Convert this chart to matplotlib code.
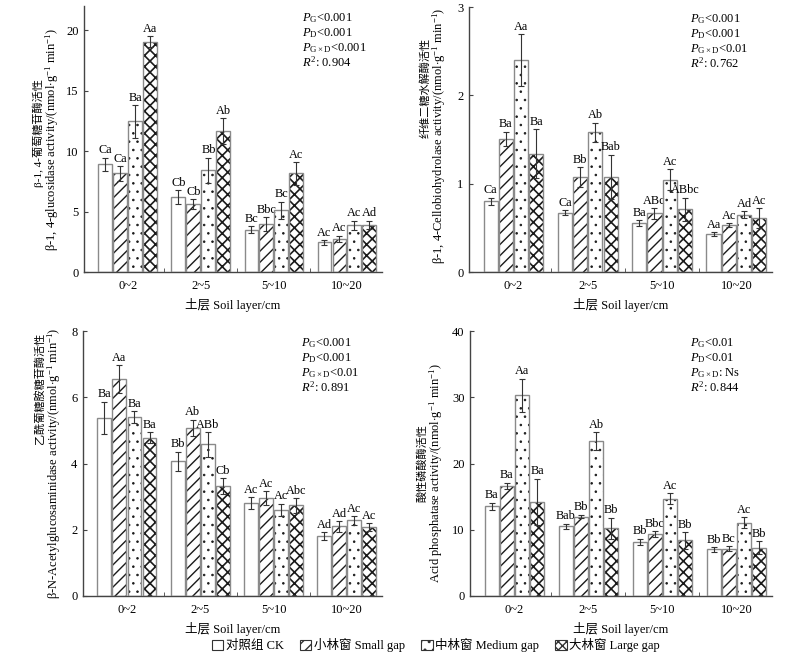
import numpy as np
import matplotlib
matplotlib.use('Agg')
import matplotlib.pyplot as plt
from matplotlib.patches import Patch

plt.rcParams['font.family'] = ['Liberation Serif', 'Noto Sans CJK SC']
plt.rcParams['font.size'] = 9
plt.rcParams['mathtext.fontset'] = 'custom'
plt.rcParams['mathtext.rm'] = 'Liberation Serif'
plt.rcParams['mathtext.it'] = 'Liberation Serif:italic'

layers = ['0~2', '2~5', '5~10', '10~20']
groups = ['对照组 CK', '小林窗 Small gap', '中林窗 Medium gap', '大林窗 Large gap']
hatches = ['', '///', '..', 'xxx']
hatch_lw = [1.0, 1.0, 0.6, 1.2]

# beta-1,4-glucosidase
glu_mean = [[8.9, 6.2, 3.5, 2.45],
            [8.15, 5.6, 3.95, 2.75],
            [12.45, 8.4, 5.1, 3.85],
            [19.05, 11.65, 8.15, 3.9]]
glu_err = [[0.55, 0.55, 0.3, 0.2],
           [0.6, 0.4, 0.6, 0.25],
           [1.35, 1.05, 0.7, 0.4],
           [0.45, 1.05, 0.95, 0.35]]
glu_let = [['Ca', 'Cb', 'Bc', 'Ac'],
           ['Ca', 'Cb', 'Bbc', 'Ac'],
           ['Ba', 'Bb', 'Bc', 'Ac'],
           ['Aa', 'Ab', 'Ac', 'Ad']]

# cellobiohydrolase
cbh_mean = [[0.80, 0.67, 0.555, 0.43],
            [1.51, 1.075, 0.665, 0.53],
            [2.40, 1.58, 1.045, 0.65],
            [1.34, 1.08, 0.71, 0.61]]
cbh_err = [[0.04, 0.03, 0.03, 0.02],
           [0.08, 0.11, 0.06, 0.02],
           [0.29, 0.11, 0.12, 0.04],
           [0.28, 0.25, 0.13, 0.11]]
cbh_let = [['Ca', 'Ca', 'Ba', 'Aa'],
           ['Ba', 'Bb', 'ABc', 'Ac'],
           ['Aa', 'Ab', 'Ac', 'Ad'],
           ['Ba', 'Bab', 'ABbc', 'Ac']]

# N-acetylglucosaminidase
nag_mean = [[5.38, 4.07, 2.81, 1.81],
            [6.54, 5.08, 2.96, 2.10],
            [5.40, 4.58, 2.61, 2.28],
            [4.78, 3.32, 2.74, 2.08]]
nag_err = [[0.49, 0.29, 0.18, 0.12],
           [0.42, 0.24, 0.2, 0.16],
           [0.17, 0.37, 0.18, 0.13],
           [0.17, 0.24, 0.22, 0.12]]
nag_let = [['Ba', 'Bb', 'Ac', 'Ad'],
           ['Aa', 'Ab', 'Ac', 'Ad'],
           ['Ba', 'ABb', 'Ac', 'Ac'],
           ['Ba', 'Cb', 'Abc', 'Ac']]

# acid phosphatase
acp_mean = [[13.55, 10.5, 8.15, 7.05],
            [16.6, 12.0, 9.3, 7.15],
            [30.3, 23.4, 14.7, 11.05],
            [14.2, 10.2, 8.4, 7.3]]
acp_err = [[0.55, 0.4, 0.5, 0.35],
           [0.5, 0.3, 0.45, 0.35],
           [2.5, 1.3, 0.8, 0.85],
           [3.5, 1.6, 1.25, 0.95]]
acp_let = [['Ba', 'Bab', 'Bb', 'Bb'],
           ['Ba', 'Bb', 'Bbc', 'Bc'],
           ['Aa', 'Ab', 'Ac', 'Ac'],
           ['Ba', 'Bb', 'Bb', 'Bb']]

glu_stats = ['<0.001', '<0.001', '<0.001', '0.904']
cbh_stats = ['<0.001', '<0.001', '<0.01', '0.762']
nag_stats = ['<0.001', '<0.001', '<0.01', '0.891']
acp_stats = ['<0.01', '<0.01', ': Ns', '0.844']

W, H = 800, 653
fig = plt.figure(figsize=(8, 6.53), dpi=100)


def px_rect(x0, y0, x1, y1):
    return [x0 / W, 1 - y1 / H, (x1 - x0) / W, (y1 - y0) / H]


def set_hlw(patch, lw):
    if hasattr(patch, 'set_hatch_linewidth'):
        patch.set_hatch_linewidth(lw)


def panel(rect, mean, err, let, stats, ymax, ystep, ylab_en, ylab_cn, cn_pos, en_pos):
    ax = fig.add_axes(px_rect(*rect))
    x = np.arange(len(layers))
    for i in range(4):
        xs = x + (i - 1.5) * 0.205
        with plt.rc_context({'hatch.linewidth': hatch_lw[i]}):
            bars = ax.bar(xs, mean[i], 0.19, color='white', edgecolor='#1a1a1a',
                          hatch=hatches[i], linewidth=0, zorder=2)
        for b in bars:
            set_hlw(b, hatch_lw[i])
        ax.bar(xs, mean[i], 0.19, color='none', edgecolor='#8a8a8a',
               linewidth=1.0, zorder=3)
        ax.errorbar(xs, mean[i], yerr=err[i], fmt='none', ecolor='#333333',
                    elinewidth=0.8, capsize=2, capthick=0.8, zorder=4)
        for xx, m, e, t in zip(xs, mean[i], err[i], let[i]):
            ax.annotate(t, (xx, m + e), xytext=(0, 1), textcoords='offset points',
                        ha='center', va='bottom', fontsize=8.8)
    ax.set_xlim(-0.6, 3.48)
    ax.set_ylim(0, ymax)
    ax.set_yticks(np.arange(0, ymax + 0.001, ystep))
    ax.set_xticks(x)
    ax.set_xticklabels(layers)
    ax.set_xticks([0.5, 1.5, 2.5], minor=True)
    ax.tick_params(axis='x', which='major', length=0, pad=6)
    ax.tick_params(axis='x', which='minor', direction='in', length=3, color='#444444')
    ax.tick_params(axis='y', direction='in', length=3, color='#444444', pad=4)
    for s in ['top', 'right']:
        ax.spines[s].set_visible(False)
    for s in ['left', 'bottom']:
        ax.spines[s].set_color('#444444')
        ax.spines[s].set_linewidth(1.0)
    ax.set_xlabel('土层 Soil layer/cm', labelpad=4)
    names = [r'$P_{\rm G}$', r'$P_{\rm D}$', r'$P_{\rm G\times D}$', r'$R^2$: ']
    for k in range(4):
        ax.text(0.73, 0.955 - k * 0.056, names[k] + stats[k], transform=ax.transAxes,
                ha='left', va='center', fontsize=9)
    fig.text(en_pos[0] / W, 1 - en_pos[1] / H, ylab_en, rotation=90,
             ha='center', va='center', fontsize=9)
    fig.text(cn_pos[0] / W, 1 - cn_pos[1] / H, ylab_cn, rotation=90,
             ha='center', va='center', fontsize=8)
    return ax


unit = r'/(nmol$\cdot$g$^{-1}$ min$^{-1}$)'
panel((84, 6, 382, 272), glu_mean, glu_err, glu_let, glu_stats, 22, 5,
      'β-1, 4-glucosidase activity' + unit, 'β-1, 4-葡萄糖苷酶活性', (38, 133), (52, 140))
panel((469, 7, 772, 272), cbh_mean, cbh_err, cbh_let, cbh_stats, 3, 1,
      'β-1, 4-Cellobiohydrolase activity' + unit, '纤维二糖水解酶活性', (425, 88), (439, 136))
panel((83, 331, 382, 596), nag_mean, nag_err, nag_let, nag_stats, 8, 2,
      'β-N-Acetylglucosaminidase activity' + unit, '乙酰葡糖胺糖苷酶活性', (40, 388), (54, 463))
panel((470, 331, 772, 596), acp_mean, acp_err, acp_let, acp_stats, 40, 10,
      'Acid phosphatase activity' + unit, '酸性磷酸酶活性', (422, 463), (436, 473))

handles = []
for h in hatches:
    with plt.rc_context({'hatch.linewidth': 0.8}):
        p = Patch(facecolor='white', edgecolor='#333333', hatch=h.replace('xxx', 'xxxx'), linewidth=0.8)
    set_hlw(p, 0.8)
    handles.append(p)
fig.legend(handles, groups, loc='center', bbox_to_anchor=(0.545, 1 - 645 / H), ncol=4,
           frameon=False, handlelength=0.9, handleheight=0.9, handletextpad=0.2,
           columnspacing=1.3, borderpad=0, fontsize=9)

fig.savefig('out.png', dpi=100)
